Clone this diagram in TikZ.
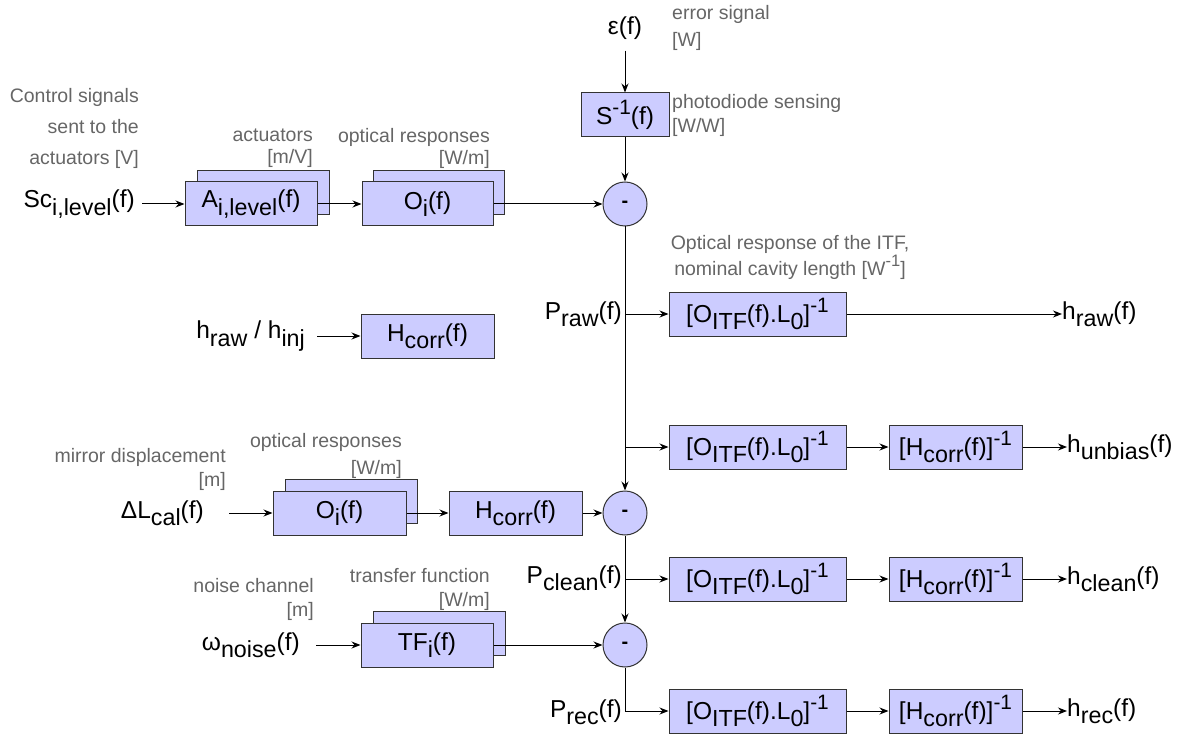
\documentclass[tikz,border=0pt]{standalone}
\usepackage{fontspec}
\setmainfont{Liberation Sans}
\usepackage{tikz}
\usetikzlibrary{shapes,arrows.meta,positioning}

\definecolor{blockfill}{HTML}{CCCCFF}
\definecolor{blockline}{HTML}{333333}
\definecolor{notegray}{HTML}{666666}

% lowered and raised indices
\newcommand{\lo}[1]{\raisebox{-0.3em}{\scalebox{0.95}{#1}}}
\newcommand{\hi}[1]{\raisebox{0.42em}{\scalebox{0.85}{#1}}}

\tikzset{
  block/.style={draw=blockline, fill=blockfill, rectangle, line width=1pt, minimum height=44pt, inner sep=0pt, font=\fontsize{24.5}{29}\selectfont},
  sumnode/.style={draw=blockline, fill=blockfill, circle, line width=1pt, minimum size=44pt, inner sep=0pt, font=\bfseries\fontsize{20}{24}\selectfont},
  sig/.style={inner sep=0pt, font=\fontsize{24.5}{29}\selectfont},
  note/.style={inner sep=0pt, text=notegray, font=\fontsize{19.5}{24}\selectfont},
  flow/.style={-{Stealth[length=9pt,width=7pt]}, line width=1pt}
}

\begin{document}
\begin{tikzpicture}[x=1pt, y=-1pt]
    \useasboundingbox (0,0) rectangle (1180,735);

    % error signal branch
    \node[sig] (eps) at (625,28) {ε(f)};
    \node[note, anchor=west, align=left, font=\fontsize{19.5}{27}\selectfont] (errnote) at (672,28) {error signal\\{}[W]};
    \node[block, minimum width=88pt] (sinv) at (625,115) {S\hi{-1}(f)};
    \node[note, anchor=west, align=left] (photonote) at (672,115) {photodiode sensing\\{}[W/W]};
    \node[sumnode] (sum1) at (625,204) {-};

    % actuation
    \node[note, anchor=east, align=right, font=\fontsize{19.5}{31}\selectfont] (ctrlnote) at (139,128) {Control signals\\sent to the\\actuators [V]};
    \node[sig, anchor=east] (sc) at (135,204) {Sc\lo{i,level}(f)};
    \node[block, minimum width=132pt] (aback) at (263,193) {};
    \node[block, minimum width=132pt] (afront) at (251,204) {A\lo{i,level}(f)};
    \node[note, anchor=east, align=right, font=\fontsize{19.5}{22}\selectfont] (actnote) at (313,148) {actuators\\{}[m/V]};
    \node[block, minimum width=131pt] (oback) at (438.5,193) {};
    \node[block, minimum width=131pt] (ofront) at (427.5,204) {O\lo{i}(f)};
    \node[note, anchor=east, align=right, font=\fontsize{19.5}{22}\selectfont] (optnote) at (490,148) {optical responses\\{}[W/m]};

    % reconstruction column
    \node[note, align=center, font=\fontsize{19.5}{26}\selectfont] (itfnote) at (790,257) {Optical response of the ITF,\\nominal cavity length [W\hi{-1}]};
    \node[sig, anchor=east] (praw) at (622,314) {P\lo{raw}(f)};
    \node[block, minimum width=177pt] (oitfa) at (757.5,314) {[O\lo{ITF}(f).L\lo{0}]\hi{-1}};
    \node[sig, anchor=west] (hraw) at (1062,314) {h\lo{raw}(f)};

    \node[block, minimum width=177pt] (oitfb) at (757.5,447) {[O\lo{ITF}(f).L\lo{0}]\hi{-1}};
    \node[block, minimum width=133pt] (hinvb) at (955.5,447) {[H\lo{corr}(f)]\hi{-1}};
    \node[sig, anchor=west] (hunbias) at (1067,447) {h\lo{unbias}(f)};

    \node[sig, anchor=east] (pclean) at (622,578) {P\lo{clean}(f)};
    \node[block, minimum width=177pt] (oitfc) at (757.5,579) {[O\lo{ITF}(f).L\lo{0}]\hi{-1}};
    \node[block, minimum width=133pt] (hinvc) at (955.5,579) {[H\lo{corr}(f)]\hi{-1}};
    \node[sig, anchor=west] (hclean) at (1067,579) {h\lo{clean}(f)};

    \node[sig, anchor=east] (prec) at (622,712) {P\lo{rec}(f)};
    \node[block, minimum width=177pt] (oitfd) at (757.5,711) {[O\lo{ITF}(f).L\lo{0}]\hi{-1}};
    \node[block, minimum width=133pt] (hinvd) at (955.5,711) {[H\lo{corr}(f)]\hi{-1}};
    \node[sig, anchor=west] (hrec) at (1067,711) {h\lo{rec}(f)};

    % injection correction
    \node[sig, anchor=east] (hinj) at (305,336) {h\lo{raw} / h\lo{inj}};
    \node[block, minimum width=133pt] (hcorra) at (427.5,336) {H\lo{corr}(f)};

    % calibration lines
    \node[note, anchor=east, align=right] (mirnote) at (226,469) {mirror displacement\\{}[m]};
    \node[sig, anchor=east] (dl) at (204,513) {ΔL\lo{cal}(f)};
    \node[block, minimum width=132pt] (obackb) at (351,501) {};
    \node[block, minimum width=133pt] (ofrontb) at (339.5,513) {O\lo{i}(f)};
    \node[note, anchor=east, align=right, font=\fontsize{19.5}{27}\selectfont] (optnoteb) at (402,456) {optical responses\\{}[W/m]};
    \node[block, minimum width=133pt] (hcorrb) at (515.5,513) {H\lo{corr}(f)};
    \node[sumnode] (sum2) at (625,513) {-};

    % noise subtraction
    \node[note, anchor=east, align=right] (noisenote) at (314,599) {noise channel\\{}[m]};
    \node[sig, anchor=east] (omega) at (300,645) {ω\lo{noise}(f)};
    \node[block, minimum width=132pt] (tfback) at (439,633) {};
    \node[block, minimum width=132pt] (tffront) at (427,645) {TF\lo{i}(f)};
    \node[note, anchor=east, align=right] (tfnote) at (490,589) {transfer function\\{}[W/m]};
    \node[sumnode] (sum3) at (625,645) {-};

    % connectors
    \draw[flow, shorten <=11pt] (eps) -- (sinv);
    \draw[flow] (sinv) -- (sum1);
    \draw[flow, shorten <=7pt] (sc.east) -- (afront.west);
    \draw[flow] (afront) -- (ofront);
    \draw[flow] (ofront) -- (sum1);
    \draw[flow] (sum1) -- (sum2);
    \draw[flow] (sum1 |- oitfa) -- (oitfa);
    \draw[flow] (oitfa) -- (hraw);
    \draw[flow] (sum1 |- oitfb) -- (oitfb);
    \draw[flow] (oitfb) -- (hinvb);
    \draw[flow] (hinvb) -- (hunbias);
    \draw[flow, shorten <=12pt] (hinj) -- (hcorra);
    \draw[flow, shorten <=25pt] (dl) -- (ofrontb);
    \draw[flow] (ofrontb) -- (hcorrb);
    \draw[flow] (hcorrb) -- (sum2);
    \draw[flow] (sum2) -- (sum3);
    \draw[flow] (sum2 |- oitfc) -- (oitfc);
    \draw[flow] (oitfc) -- (hinvc);
    \draw[flow] (hinvc) -- (hclean);
    \draw[flow, shorten <=16pt] (omega) -- (tffront);
    \draw[flow] (tffront) -- (sum3);
    \draw[flow] (sum3) |- (oitfd);
    \draw[flow] (oitfd) -- (hinvd);
    \draw[flow] (hinvd) -- (hrec);
\end{tikzpicture}
\end{document}
